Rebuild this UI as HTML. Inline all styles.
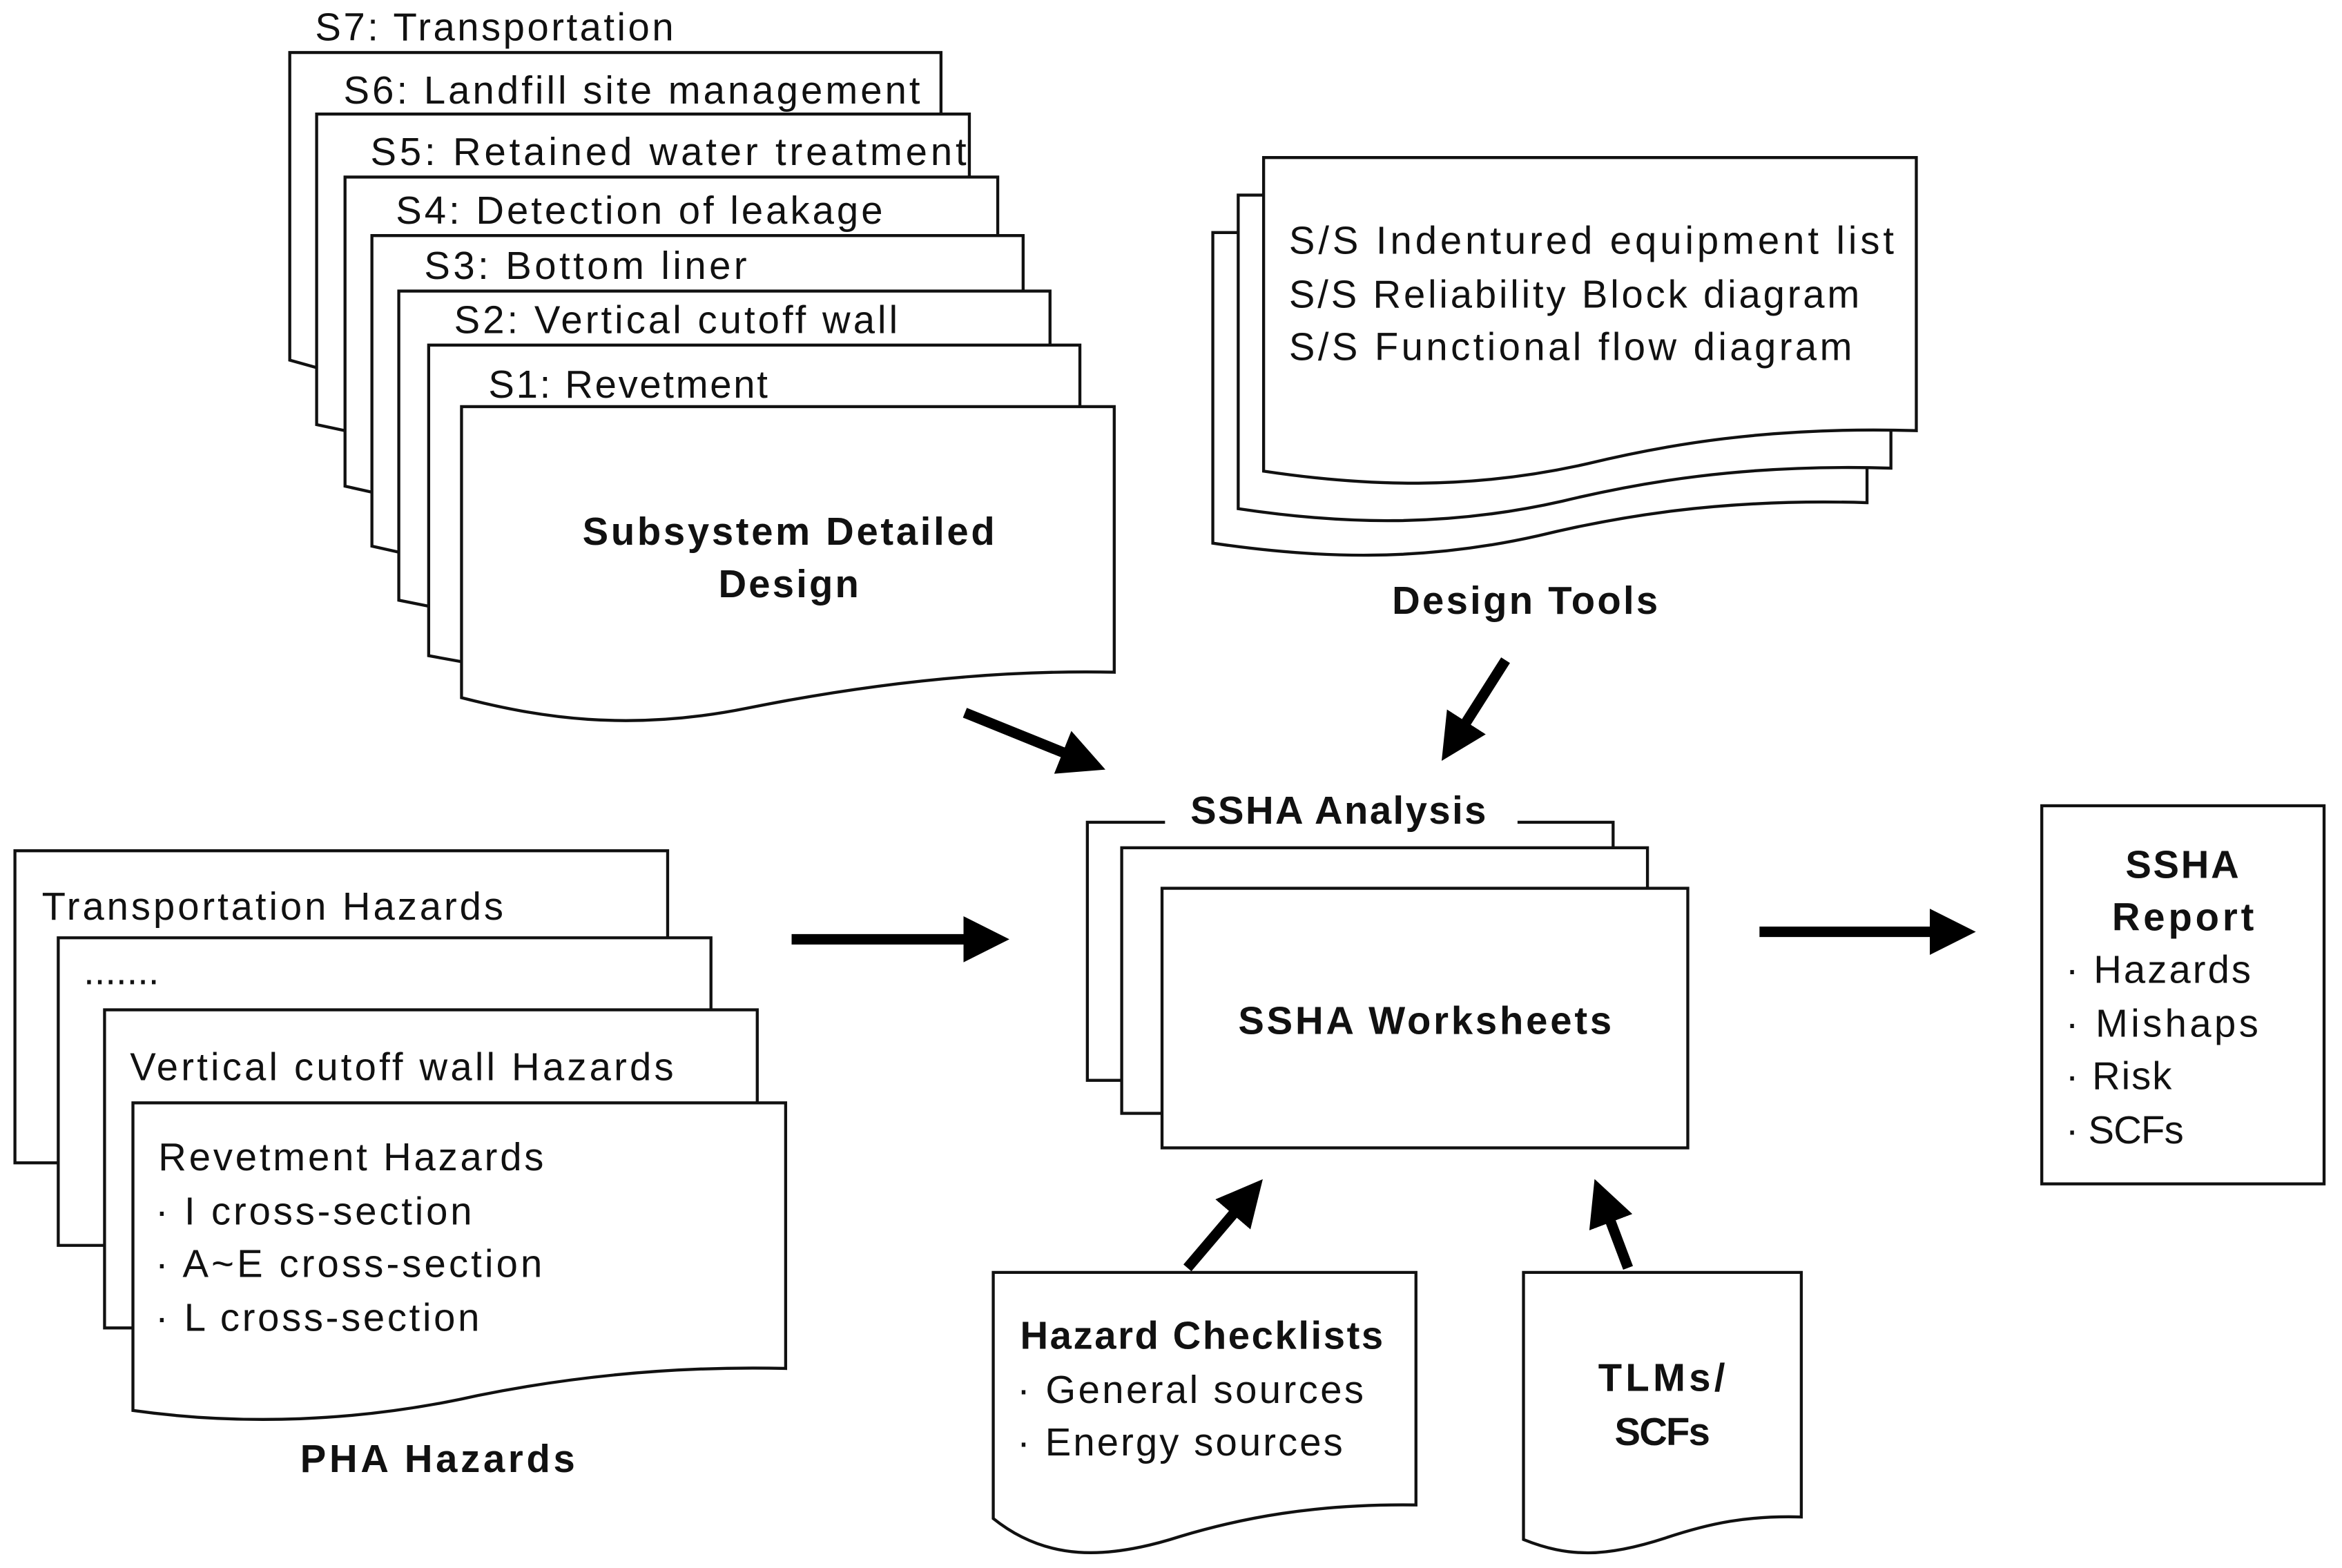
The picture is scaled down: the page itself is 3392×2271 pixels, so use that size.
<!DOCTYPE html>
<html><head><meta charset="utf-8"><style>html,body{margin:0;padding:0;background:#fff}svg{display:block}
text{font-family:"Liberation Sans","Noto Sans CJK KR",sans-serif;fill:#111}
.t{font-size:26px}.b{font-size:26px;font-weight:bold}
</style></head><body>
<svg width="3392" height="2271" viewBox="0 0 1568 1045" preserveAspectRatio="none" xmlns="http://www.w3.org/2000/svg">
<defs>
<marker id="ah" markerWidth="4.4" markerHeight="4.4" refX="1" refY="2.2" orient="auto" markerUnits="strokeWidth"><path d="M0,0 L4.4,2.2 L0,4.4 z" fill="#000"/></marker>
</defs>
<g fill="#fff" stroke="#111" stroke-width="2">
<path d="M194,35 H630 V260 L212,245 L194,240 Z"/>
<path d="M212,76 H649 V300 L231,287 L212,283 Z"/>
<path d="M231,118 H668 V340 L249,328 L231,324 Z"/>
<path d="M249,157 H685 V380 L267,368 L249,364 Z"/>
<path d="M267,194 H703 V415 L287,404 L267,400 Z"/>
<path d="M287,230 H723 V430 L309,441 L287,437 Z"/>
<path d="M309,271 H746 V448 C650,446 560,460 500,472 C420,488 360,478 309,465 Z"/>
<path d="M812,155 H1250 V335 C1150,332 1080,345 1030,357 C950,375 880,372 812,362 Z"/>
<path d="M829,130 H1266 V312 C1166,309 1096,322 1046,334 C966,352 896,349 829,339 Z"/>
<path d="M846,105 H1283 V287 C1183,284 1113,297 1063,309 C983,327 913,324 846,314 Z"/>
<rect x="728" y="548" width="352" height="172"/>
<rect x="751" y="565" width="352" height="177"/>
<rect x="778" y="592" width="352" height="173"/>
<path d="M10,567 H447 V775 H10 Z"/>
<path d="M39,625 H476 V830 H39 Z"/>
<path d="M70,673 H507 V885 H70 Z"/>
<path d="M89,735 H526 V912 C440,910 370,920 320,930 C240,948 160,950 89,940 Z"/>
<rect x="1367" y="537" width="189" height="252"/>
<path d="M665,848 H948 V1003 C880,1002 830,1012 790,1024 C740,1040 700,1040 665,1012 Z"/>
<path d="M1020,848 H1206 V1011 C1170,1010 1145,1015 1115,1025 C1075,1038 1050,1038 1020,1026 Z"/>
</g>
<rect x="780" y="525" width="236" height="30" fill="#fff"/>
<g class="t">
<text x="211" y="27" textLength="240">S7: Transportation</text>
<text x="230" y="69" textLength="386">S6: Landfill site management</text>
<text x="248" y="110" textLength="399">S5: Retained water  treatment</text>
<text x="265" y="149" textLength="326">S4: Detection of leakage</text>
<text x="284" y="186" textLength="216">S3: Bottom liner</text>
<text x="304" y="222" textLength="297">S2: Vertical cutoff wall</text>
<text x="327" y="265" textLength="187">S1: Revetment</text>
<text x="863" y="169" textLength="405">S/S Indentured equipment list</text>
<text x="863" y="205" textLength="382">S/S Reliability Block diagram</text>
<text x="863" y="240" textLength="377">S/S Functional flow diagram</text>
<text x="28" y="613" textLength="309">Transportation Hazards</text>
<text x="56" y="656">.......</text>
<text x="87" y="720" textLength="364">Vertical cutoff wall Hazards</text>
<text x="106" y="780" textLength="258">Revetment Hazards</text>
<text x="104" y="816" textLength="212">· I cross-section</text>
<text x="104" y="851" textLength="259">· A~E cross-section</text>
<text x="104" y="887" textLength="217">· L cross-section</text>
<text x="1383" y="655" textLength="124">· Hazards</text>
<text x="1383" y="691" textLength="129">· Mishaps</text>
<text x="1383" y="726" textLength="71">· Risk</text>
<text x="1383" y="762" textLength="79">· SCFs</text>
<text x="681" y="935" textLength="232">· General sources</text>
<text x="681" y="970" textLength="218">· Energy sources</text>
</g>
<g class="b">
<text x="390" y="363" textLength="276">Subsystem Detailed</text>
<text x="481" y="398" textLength="94">Design</text>
<text x="932" y="409" textLength="178">Design Tools</text>
<text x="797" y="549" textLength="198">SSHA Analysis</text>
<text x="829" y="689" textLength="250">SSHA Worksheets</text>
<text x="201" y="981" textLength="184">PHA Hazards</text>
<text x="1423" y="585" textLength="76">SSHA</text>
<text x="1414" y="620" textLength="95">Report</text>
<text x="1070" y="927" textLength="85">TLMs/</text>
<text x="1081" y="963" textLength="64">SCFs</text>
<text x="683" y="899" textLength="243">Hazard Checklists</text>
</g>
<g stroke="#000" stroke-width="7" marker-end="url(#ah)">
<line x1="646" y1="475" x2="718" y2="504"/>
<line x1="1008" y1="440" x2="978" y2="487"/>
<line x1="530" y1="626" x2="652" y2="626"/>
<line x1="1178" y1="621" x2="1299" y2="621"/>
<line x1="795" y1="845" x2="830" y2="804"/>
<line x1="1090" y1="845" x2="1076" y2="808"/>
</g>
</svg>
</body></html>
